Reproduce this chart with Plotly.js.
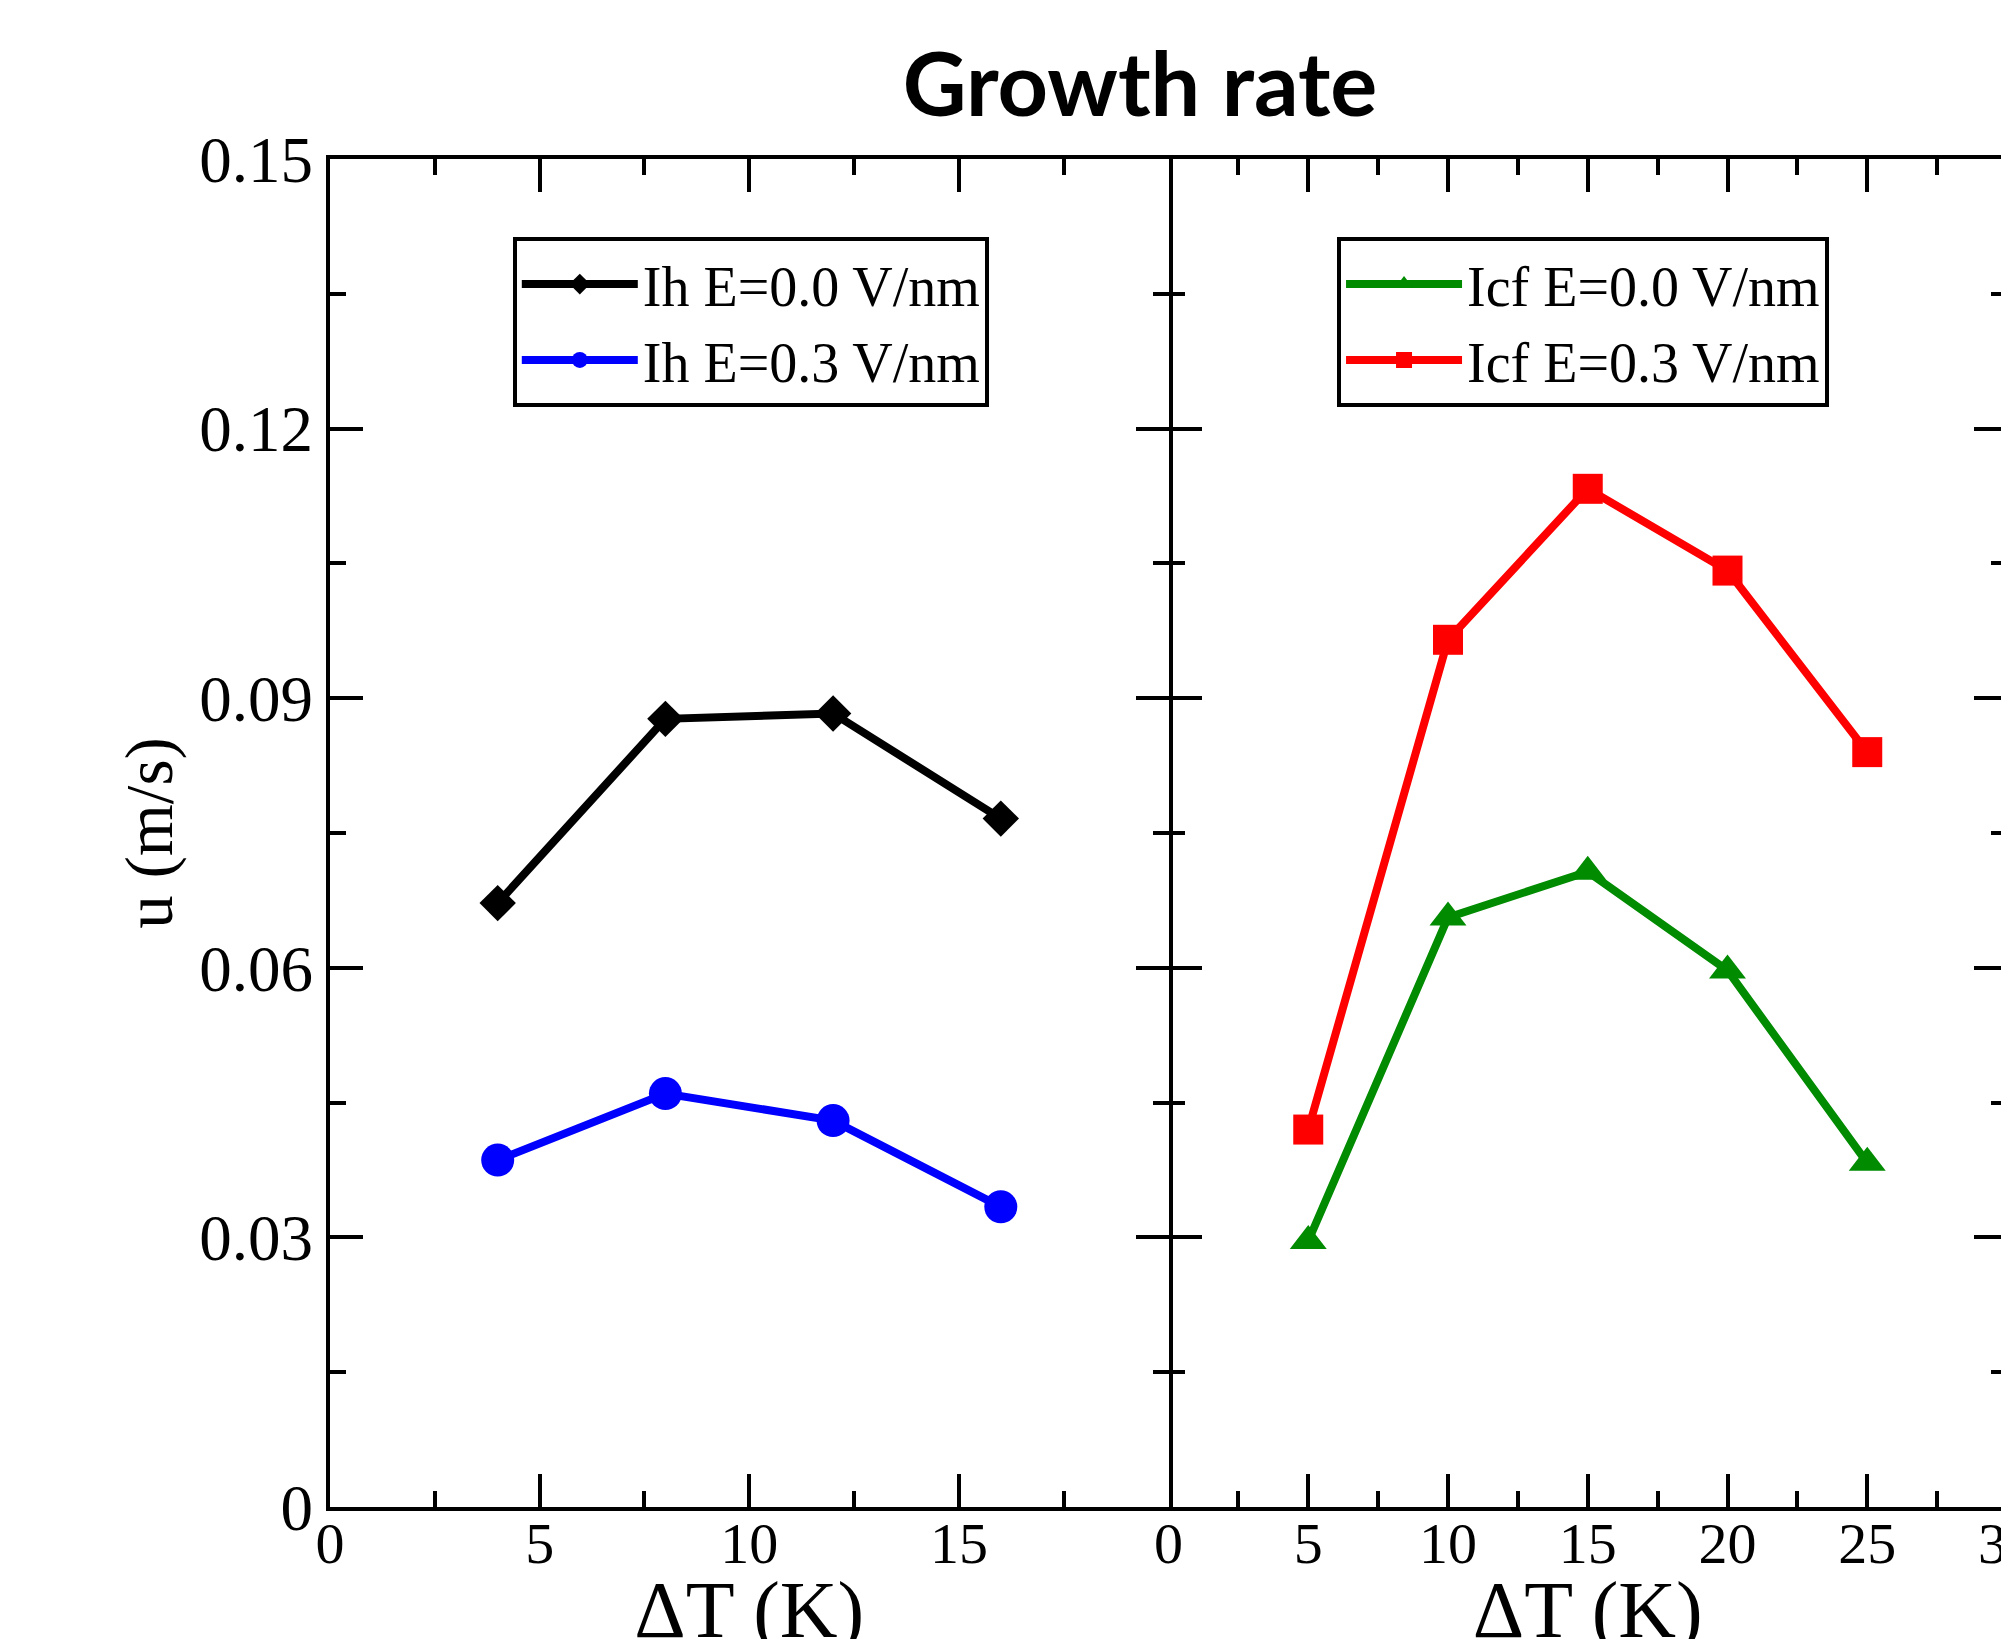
<!DOCTYPE html>
<html>
<head>
<meta charset="utf-8">
<script src="https://cdn.plot.ly/plotly-3.0.1.min.js"></script>
<style>
html, body { margin: 0; padding: 0; overflow: hidden; background: #fff; }
#chart { width: 2010px; height: 1655px; }
</style>
</head>
<body>
<div id="chart"></div>
<script>
// Left panel: Ih
const ihX = [4, 8, 12, 16];
const ihE00 = [0.0672, 0.0877, 0.0883, 0.0766];
const ihE03 = [0.0386, 0.0460, 0.0430, 0.0334];
// Right panel: Icf
const icfX = [5, 10, 15, 20, 25];
const icfE00 = [0.0296, 0.0656, 0.0707, 0.0597, 0.0383];
const icfE03 = [0.0420, 0.0965, 0.1133, 0.1042, 0.0840];

const names = ["Ih E=0.0 V/nm", "Ih E=0.3 V/nm", "Icf E=0.0 V/nm", "Icf E=0.3 V/nm"];
const leftXTicks = [0, 5, 10, 15, 20];
const leftXText = ["0", "5", "10", "15", ""];
const rightXTicks = [0, 5, 10, 15, 20, 25, 30];
const yTicks = [0, 0.03, 0.06, 0.09, 0.12, 0.15];
const yTickText = ["0", "0.03", "0.06", "0.09", "0.12", "0.15"];

const serif = "Liberation Serif, Times New Roman, serif";
const LW = 8;
const H = 1655;

const traces = [
  {x: ihX, y: ihE00, name: names[0], mode: "lines+markers", xaxis: "x", yaxis: "y", legend: "legend",
   line: {color: "#000000", width: LW}, marker: {symbol: "diamond", size: 28, color: "#000000"}},
  {x: ihX, y: ihE03, name: names[1], mode: "lines+markers", xaxis: "x", yaxis: "y", legend: "legend",
   line: {color: "#0000ff", width: LW}, marker: {symbol: "circle", size: 33, color: "#0000ff"}},
  {x: icfX, y: icfE00, name: names[2], mode: "lines+markers", xaxis: "x2", yaxis: "y2", legend: "legend2",
   line: {color: "#008b00", width: LW}, marker: {symbol: "triangle-up", size: 32, color: "#008b00"}},
  {x: icfX, y: icfE03, name: names[3], mode: "lines+markers", xaxis: "x2", yaxis: "y2", legend: "legend2",
   line: {color: "#ff0000", width: LW}, marker: {symbol: "square", size: 30, color: "#ff0000"}}
];

const minorTicks = (d) => ({dtick: d, tick0: 0, ticks: "inside", ticklen: 16, tickwidth: 4, tickcolor: "#000"});

const axCommon = {
  showline: true, linecolor: "#000", linewidth: 4, mirror: "ticks",
  ticks: "inside", ticklen: 33, tickwidth: 4, tickcolor: "#000",
  showgrid: false, zeroline: false, fixedrange: true
};

const layout = {
  width: 2010, height: H,
  margin: {l: 330, r: 3, t: 159, b: H - 1507},
  paper_bgcolor: "#fff", plot_bgcolor: "#fff",
  title: {text: "Growth rate", font: {family: "Lato, sans-serif", size: 88, color: "#000", weight: "bold"},
          x: 1140 / 2010, xanchor: "center", xref: "container", y: 1 - 85 / H, yanchor: "middle", yref: "container"},
  xaxis: Object.assign({}, axCommon, {
    domain: [0, 0.5], range: [0, 20], anchor: "y",
    tickmode: "array", tickvals: leftXTicks, ticktext: leftXText,
    minor: minorTicks(2.5),
    tickfont: {family: serif, size: 58, color: "#000"}, ticklabelstandoff: -18,
    title: {text: "ΔT (K)", font: {family: serif, size: 80, color: "#000"}, standoff: 0}
  }),
  yaxis: Object.assign({}, axCommon, {
    domain: [0, 1], range: [0, 0.15], anchor: "x",
    tickmode: "array", tickvals: yTicks, ticktext: yTickText,
    minor: minorTicks(0.015),
    tickfont: {family: serif, size: 65, color: "#000"},
    title: {text: "u (m/s)", font: {family: serif, size: 67, color: "#000"}, standoff: 6}
  }),
  xaxis2: Object.assign({}, axCommon, {
    domain: [0.5, 1], range: [0, 30], anchor: "y2",
    tickmode: "array", tickvals: rightXTicks, ticklabeloverflow: "allow",
    minor: minorTicks(2.5),
    tickfont: {family: serif, size: 58, color: "#000"}, ticklabelstandoff: -18,
    title: {text: "ΔT (K)", font: {family: serif, size: 80, color: "#000"}, standoff: 0}
  }),
  yaxis2: Object.assign({}, axCommon, {
    domain: [0, 1], range: [0, 0.15], anchor: "x2", showline: false,
    tickmode: "array", tickvals: yTicks, showticklabels: false,
    minor: minorTicks(0.015)
  }),
  showlegend: true,
  legend: {x: 0.109, y: 0.942, xanchor: "left", yanchor: "top", xref: "paper", yref: "paper",
           bgcolor: "#fff", bordercolor: "#000", borderwidth: 4,
           font: {family: serif, size: 56, color: "#000"}, itemwidth: 116, tracegroupgap: 0},
  legend2: {x: 0.6005, y: 0.942, xanchor: "left", yanchor: "top", xref: "paper", yref: "paper",
           bgcolor: "#fff", bordercolor: "#000", borderwidth: 4,
           font: {family: serif, size: 56, color: "#000"}, itemwidth: 116, tracegroupgap: 0}
};

Plotly.newPlot("chart", traces, layout, {displayModeBar: false, staticPlot: true});
</script>
</body>
</html>
